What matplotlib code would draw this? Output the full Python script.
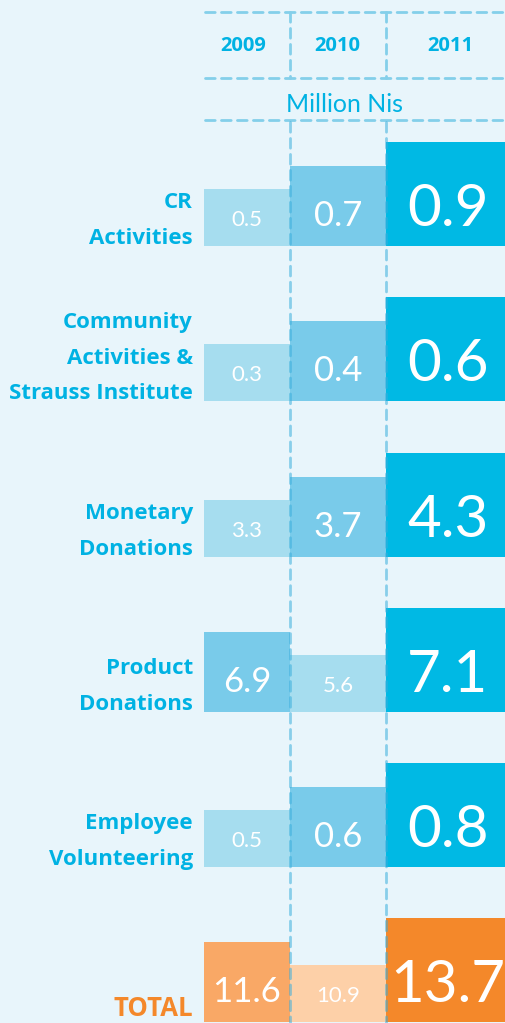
import numpy as np
import matplotlib
matplotlib.use("Agg")
import matplotlib.pyplot as plt

# data
years = ["2009", "2010", "2011"]
categories = [["CR", "Activities"],
              ["Community", "Activities &", "Strauss Institute"],
              ["Monetary", "Donations"],
              ["Product", "Donations"],
              ["Employee", "Volunteering"]]
v2009 = [0.5, 0.3, 3.3, 6.9, 0.5]
v2010 = [0.7, 0.4, 3.7, 5.6, 0.6]
v2011 = [0.9, 0.6, 4.3, 7.1, 0.8]
totals = [11.6, 10.9, 13.7]
unit = "Million Nis"

# colours / sizes by rank within a row (smallest, middle, largest)
blues = ["#a6ddef", "#79cbea", "#00b9e4"]
oranges = ["#fdd0a8", "#f9a866", "#f4882a"]
heights = [57, 80, 104]
fsizes = [16, 25, 42]
txt_blue = "#00b2e3"
bg = "#e8f5fb"
dash_c = "#84cfea"

plt.rcParams['lines.scale_dashes'] = False

W, H = 506, 1023
fig = plt.figure(figsize=(W / 100, H / 100), dpi=100)
fig.patch.set_facecolor(bg)
ax = fig.add_axes([0, 0, 1, 1])
ax.set_xlim(0, W)
ax.set_ylim(H, 0)
ax.axis('off')

col_left = [204, 290, 386]
col_right = [290, 386, 520]
col_mid = [247, 338, 448]
row_bottom = [246, 401, 557, 712, 867, 1022]

def draw_row(vals, bottom, palette):
    rank = np.argsort(np.argsort(vals))
    for j, v in enumerate(vals):
        r = rank[j]
        ax.add_patch(plt.Rectangle((col_left[j], bottom - heights[r]),
                                   col_right[j] - col_left[j], heights[r],
                                   color=palette[r], lw=0, zorder=2))
        ax.text(col_mid[j], bottom - 20, f"{v:.1f}", color="white",
                fontsize=fsizes[r], family="Lato",
                ha="center", va="baseline", zorder=4)

rows = list(zip(v2009, v2010, v2011))
for i, vals in enumerate(rows):
    draw_row(vals, row_bottom[i], blues)
    lines = categories[i]
    for k, line in enumerate(lines):
        y = row_bottom[i] - 2 - 35.5 * (len(lines) - 1 - k)
        ax.text(193, y, line, color=txt_blue, fontsize=16, family="Open Sans",
                fontweight="bold", ha="right", va="baseline")

draw_row(totals, row_bottom[5], oranges)
ax.text(193, 1016, "TOTAL", color="#f4882a", fontsize=18.5, family="Open Sans",
        fontweight="bold", ha="right", va="baseline")

# header
year_x = [243, 337, 450]
for x, yr in zip(year_x, years):
    ax.text(x, 46, yr, color=txt_blue, fontsize=14.5, family="Open Sans",
            fontweight="bold", ha="center", va="center")
ax.text(345, 104, unit, color=txt_blue, fontsize=18, family="Lato",
        ha="center", va="center")

# dashed grid
for y in [12, 78, 120]:
    ax.plot([205, W], [y, y], color=dash_c, lw=2, ls=(0, (7, 4.5)),
            dash_capstyle="round", zorder=1)
for x in [290, 386]:
    ax.plot([x, x], [12, 78], color=dash_c, lw=2, ls=(0, (7, 4.5)),
            dash_capstyle="round", zorder=3)
    ax.plot([x, x], [122, H], color="#3aaedc", alpha=0.55, lw=2,
            ls=(0, (7, 4.5)), dash_capstyle="round", zorder=3)

fig.savefig("out.png", dpi=100, facecolor=bg)
